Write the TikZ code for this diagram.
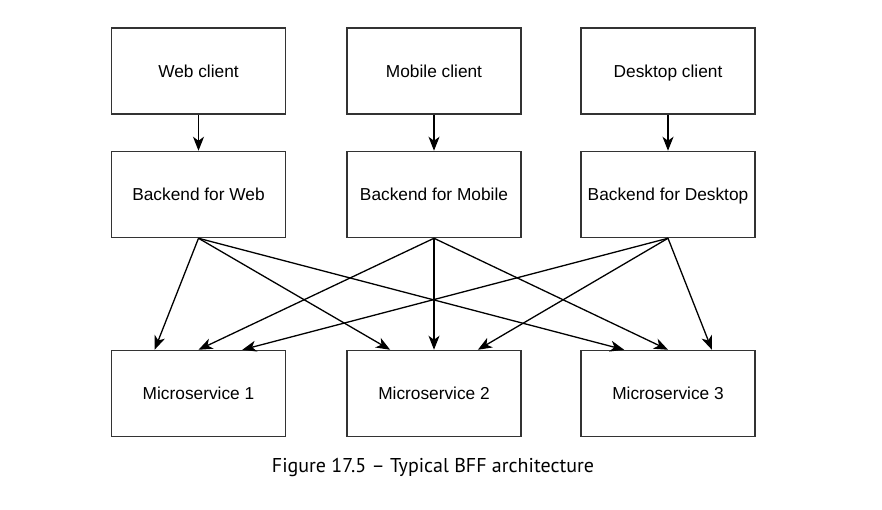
\documentclass[tikz,border=0pt]{standalone}
\usepackage{fontspec}
\setmainfont{Liberation Sans}
\newfontfamily\capfont{PT Sans}
\usetikzlibrary{arrows.meta,calc}
\begin{document}
\begin{tikzpicture}[x=1pt,y=-1pt,
  box/.style={draw=black!80, line width=1.5pt, minimum width=174pt, minimum height=86pt,
    inner sep=0pt, text height=12.4pt, text depth=0pt, font=\fontsize{17.3}{20}\selectfont},
  arr/.style={-{Stealth[length=14pt,width=11pt,inset=4pt]}, line width=1.3pt}]
\useasboundingbox (0,0) rectangle (882,509);
% top row
\node[box] (wc) at (198.5,71) {Web client};
\node[box] (mc) at (434,71) {Mobile client};
\node[box] (dc) at (668,71) {Desktop client};
% middle row
\node[box] (wb) at (198.5,194.5) {Backend for Web};
\node[box] (mb) at (434,194.5) {Backend for Mobile};
\node[box] (db) at (668,194.5) {Backend for Desktop};
% bottom row
\node[box] (m1) at (198.5,393.5) {Microservice 1};
\node[box] (m2) at (434,393.5) {Microservice 2};
\node[box] (m3) at (668,393.5) {Microservice 3};
% vertical arrows
\draw[arr] (wc.south) -- (wb.north);
\draw[arr] (mc.south) -- (mb.north);
\draw[arr] (dc.south) -- (db.north);
% target points
\foreach \m in {m1,m2,m3}{
  \coordinate (\m-l) at ($(\m.north west)!0.25!(\m.north east)$);
  \coordinate (\m-c) at (\m.north);
  \coordinate (\m-r) at ($(\m.north west)!0.75!(\m.north east)$);
}
\draw[arr] (wb.south) -- (m1-l);
\draw[arr] (wb.south) -- (m2-l);
\draw[arr] (wb.south) -- (m3-l);
\draw[arr] (mb.south) -- (m1-c);
\draw[arr] (mb.south) -- (m2-c);
\draw[arr] (mb.south) -- (m3-c);
\draw[arr] (db.south) -- (m1-r);
\draw[arr] (db.south) -- (m2-r);
\draw[arr] (db.south) -- (m3-r);
% caption
\node[font=\capfont\fontsize{20}{24}\selectfont, inner sep=0pt] (cap) at (433,467) {Figure 17.5 – Typical BFF architecture};
\end{tikzpicture}
\end{document}
